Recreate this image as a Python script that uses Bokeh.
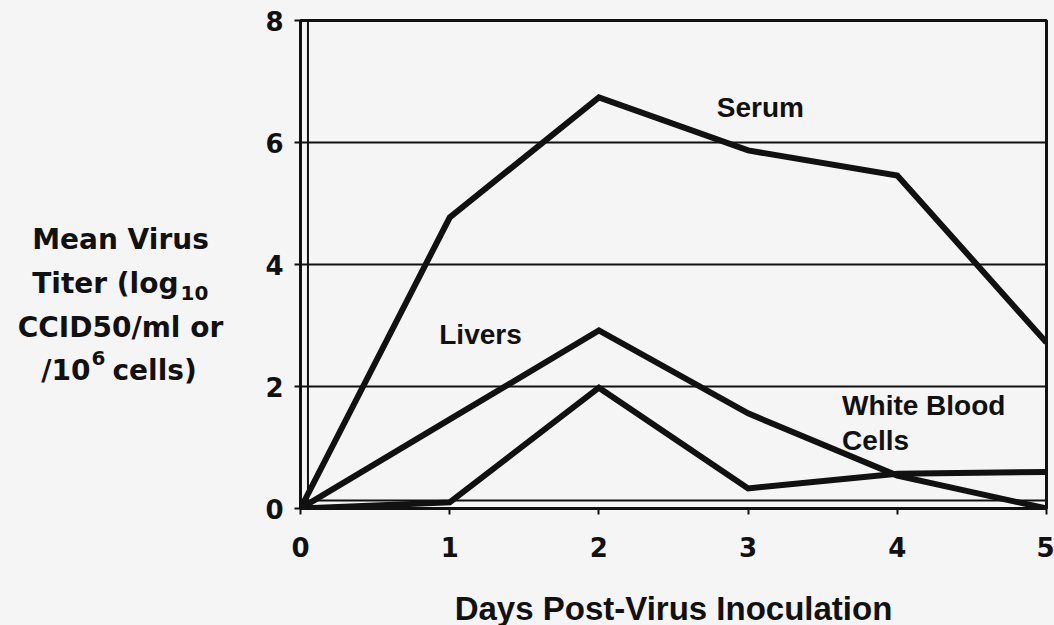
from bokeh.plotting import figure
from bokeh.models import Label, Span, FixedTicker, Range1d
from bokeh.layouts import row
from bokeh.core.properties import value
from bokeh.embed import file_html
from bokeh.resources import INLINE

days = [0, 1, 2, 3, 4, 5]
serum = [0, 4.77, 6.74, 5.87, 5.46, 2.72]
livers = [0, 1.46, 2.92, 1.56, 0.54, 0]
wbc = [0, 0.1, 1.98, 0.33, 0.57, 0.6]
x_ticks = [0, 1, 2, 3, 4, 5]
y_ticks = [0, 2, 4, 6, 8]
series_names = ["Serum", "Livers", "White Blood\nCells"]

BG = "#f5f5f5"
INK = "#111111"

# ---- left panel holding the horizontal, multi-line y-axis title ----
LW, H = 248, 625
t = figure(frame_width=LW, frame_height=H, x_range=Range1d(0, LW), y_range=Range1d(H, 0),
           output_backend="svg", toolbar_location=None, min_border=0,
           background_fill_color=BG, border_fill_color=BG)
t.axis.visible = False
t.grid.visible = False
t.outline_line_color = None

YF = value("DejaVu Sans")
def ttxt(x, y, s, size, align):
    t.text(x=[x], y=[y], text=[s], text_font=YF, text_font_style="bold",
           text_font_size=size, text_color=INK, text_baseline="middle", text_align=align)

ttxt(120, 219, "Mean Virus", "28px", "center")
ttxt(178, 263, "Titer (log", "28px", "right")
ttxt(180, 272, "10", "20px", "left")
ttxt(120, 307, "CCID50/ml or", "28px", "center")
ttxt(90, 350, "/10", "28px", "right")
ttxt(91, 337, "6", "20px", "left")
ttxt(112, 350, "cells)", "28px", "left")

# ---- main chart ----
p = figure(frame_width=746, frame_height=488,
           x_range=Range1d(0, 5), y_range=Range1d(0, 8),
           output_backend="svg", toolbar_location=None,
           min_border_left=300 - LW, min_border_right=8,
           min_border_top=20, min_border_bottom=117,
           background_fill_color=BG, border_fill_color=BG)

p.outline_line_color = INK
p.outline_line_width = 3
p.outline_line_alpha = 1

p.xgrid.visible = False
p.ygrid.ticker = FixedTicker(ticks=[2, 4, 6])
p.ygrid.grid_line_color = INK
p.ygrid.grid_line_width = 2
p.ygrid.grid_line_alpha = 1

for ax in (p.xaxis[0], p.yaxis[0]):
    ax.axis_line_width = 3
    ax.axis_line_color = INK
    ax.major_tick_line_width = 2
    ax.major_tick_line_color = INK
    ax.major_tick_in = 0
    ax.major_tick_out = 6
    ax.minor_tick_line_color = None
    ax.major_label_text_font = "DejaVu Sans"
    ax.major_label_text_font_style = "bold"
    ax.major_label_text_font_size = "26px"
    ax.major_label_text_color = INK

p.xaxis.ticker = FixedTicker(ticks=x_ticks)
p.yaxis.ticker = FixedTicker(ticks=y_ticks)
p.xaxis.major_label_standoff = 22
p.yaxis.major_label_standoff = 11

p.xaxis.axis_label = "Days Post-Virus Inoculation"
p.xaxis.axis_label_text_font = "Liberation Sans"
p.xaxis.axis_label_text_font_style = "bold"
p.xaxis.axis_label_text_font_size = "33px"
p.xaxis.axis_label_text_color = INK
p.xaxis.axis_label_standoff = 30

# inner frame lines (double border look)
p.add_layout(Span(location=0.05, dimension="height", line_color=INK, line_width=2))
p.add_layout(Span(location=0.13, dimension="width", line_color=INK, line_width=2))

for ys in (serum, livers, wbc):
    p.line(days, ys, line_color=INK, line_width=6, line_join="miter")

def lab(x, y, s):
    p.add_layout(Label(x=x, y=y, text=s, text_font="Liberation Sans", text_font_style="bold",
                       text_font_size="28px", text_color=INK, text_baseline="middle",
                       text_align="left"))

lab(2.79, 6.57, series_names[0])
lab(0.93, 2.85, series_names[1])
wb1, wb2 = series_names[2].split("\n")
lab(3.63, 1.69, wb1)
lab(3.63, 1.11, wb2)

layout = row(t, p, spacing=0, styles={"background-color": BG})
open("out.html", "w").write(file_html(layout, INLINE))
